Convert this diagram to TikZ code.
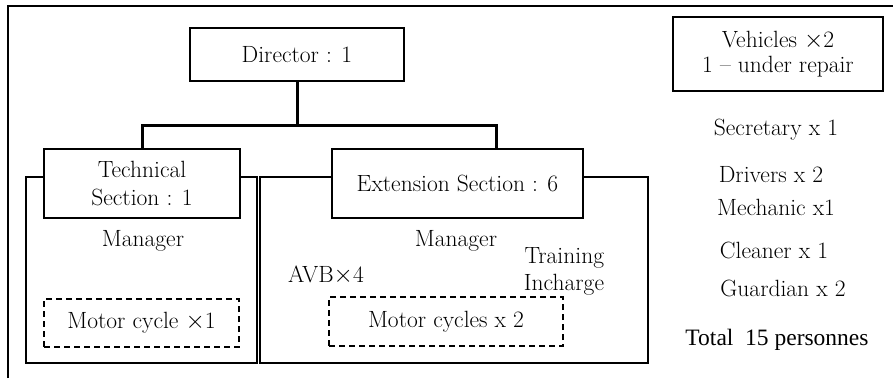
\documentclass[tikz,border=0pt]{standalone}
\usepackage{fontspec}
\newfontfamily\timesfont{Liberation Serif}
\usetikzlibrary{positioning}

\begin{document}
\begin{tikzpicture}[
  x=1pt, y=-1pt,
  font=\fontsize{23.5}{27}\selectfont,
  block/.style={draw, line width=1.7pt, fill=white, align=center, inner sep=0pt},
  sectframe/.style={draw, line width=1.7pt, inner sep=0pt},
  motobox/.style={draw, line width=1.5pt, dash pattern=on 6pt off 4pt, align=center, inner sep=0pt},
  conn/.style={draw, line width=3pt},
  txt/.style={align=center, inner sep=0pt}
]
\useasboundingbox (0,0) rectangle (893,378);
\draw[line width=1.7pt] (8,378) -- (8,6) -- (893,6);

% section frames behind the boxes
\node[sectframe, minimum width=231, minimum height=186] (techframe) at (141.5,270) {};
\node[sectframe, minimum width=388, minimum height=186] (extframe) at (454,270) {};

\node[block, minimum width=214, minimum height=53] (director) at (297,54.5) {Director : 1};
\node[block, minimum width=196, minimum height=69] (tech) at (142,183.5) {Technical\\[1pt]Section : 1};
\node[block, minimum width=251, minimum height=69] (ext) at (457.5,183.5) {Extension Section : 6};

\coordinate (bar) at (297,125);
\coordinate (extin) at (496,149);
\draw[conn] (director.south) -- (bar) -| (tech.north);
\draw[conn] (bar) -| (extin);

\node[txt] (techman) at (143,241) {Manager};
\node[txt] (extman) at (456,241) {Manager};
\node[txt] (avb) at (326,275) {AVB$\times$4};
\node[txt, align=right] (training) at (564,271) {Training\\[0pt]Incharge};

\node[motobox, minimum width=195, minimum height=48] (techmoto) at (141.5,323) {Motor cycle $\times$1};
\node[motobox, minimum width=234, minimum height=49] (extmoto) at (446,321.5) {Motor cycles x 2};

\node[block, minimum width=210, minimum height=74] (vehicles) at (778,54) {Vehicles $\times$2\\[-2pt]1 -- under repair};

\node[txt] (secretary) at (776,130) {Secretary x 1};
\node[txt] (drivers) at (771,175) {Drivers x 2};
\node[txt] (mechanic) at (776,207) {Mechanic x1};
\node[txt] (cleaner) at (774,250) {Cleaner x 1};
\node[txt] (guardian) at (783,288) {Guardian x 2};
\node[txt, font=\timesfont\fontsize{23.5}{27}\selectfont] (total) at (777,340) {Total\ \ 15 personnes};
\end{tikzpicture}
\end{document}
